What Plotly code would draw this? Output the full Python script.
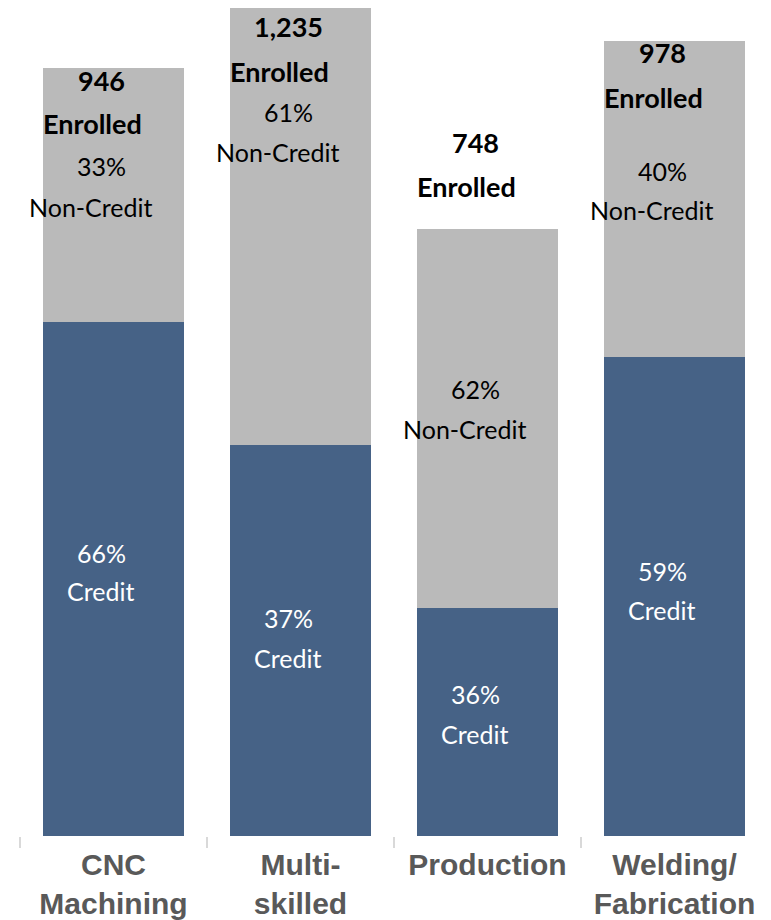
import plotly.graph_objects as go

categories = ["CNC<br>Machining", "Multi-<br>skilled", "Production", "Welding/<br>Fabrication"]
credit = [633, 482, 281, 590]
non_credit = [313, 753, 467, 390]
enrolled = [946, 1235, 748, 978]
credit_pct = [66, 37, 36, 59]
non_credit_pct = [33, 61, 62, 40]

BLUE = "#466286"
GRAY = "#BABABA"
LABEL_FONT = "Lato"

# page has an 8px body margin; figure is placed at (8, 8)
OFF = 8
W, H = 771 - OFF, 920 - OFF
T, B = 0, 84
PLOT_H = H - T - B
BASE = H - B  # figure px of baseline

fig = go.Figure()
fig.add_trace(go.Bar(x=categories, y=credit, name="Credit", marker_color=BLUE,
                     marker_line_width=0, hoverinfo="skip"))
fig.add_trace(go.Bar(x=categories, y=non_credit, name="Non-Credit", marker_color=GRAY,
                     marker_line_width=0, hoverinfo="skip"))

# label vertical positions (page pixels from top) per bar
pos_num = [80, 27, 143, 52]
pos_enr = [124, 71, 187, 97]
pos_ncp = [166, 112, 389, 171]
pos_ncl = [207, 152, 429, 210]
pos_cp = [553, 618, 694, 571]
pos_cl = [591, 658, 734, 610]


def py(px):
    return (BASE - (px - OFF)) / PLOT_H


ann = []
for i, cat in enumerate(categories):
    def add(text, ypx, xs, color, bold=False, size=25):
        ann.append(dict(x=cat, xref="x", y=py(ypx), yref="paper", text=text,
                        showarrow=False, xanchor="center", yanchor="middle", xshift=xs,
                        font=dict(family=LABEL_FONT, size=size, color=color,
                                  weight="bold" if bold else "normal")))
    add(f"{enrolled[i]:,}", pos_num[i], -12, "black", True, 27)
    add("Enrolled", pos_enr[i], -21, "black", True, 27)
    add(f"{non_credit_pct[i]}%", pos_ncp[i], -12, "black")
    add("Non-Credit", pos_ncl[i], -23, "black")
    add(f"{credit_pct[i]}%", pos_cp[i], -12, "white")
    add("Credit", pos_cl[i], -13, "white")

fig.update_layout(
    barmode="stack",
    bargap=0.25,
    width=W, height=H,
    margin=dict(l=12, r=3, t=T, b=B, autoexpand=False),
    paper_bgcolor="white", plot_bgcolor="white",
    showlegend=False,
    annotations=ann,
    xaxis=dict(ticks="outside", tickson="boundaries", ticklen=11, tickwidth=2,
               tickcolor="#D9D9D9", showline=False, showgrid=False,
               ticklabelstandoff=8,
               tickfont=dict(family="Liberation Sans", size=30, color="#595959", weight="bold")),
    yaxis=dict(range=[0, PLOT_H / 0.8117], visible=False, showgrid=False),
)

fig.write_html("out.html")
